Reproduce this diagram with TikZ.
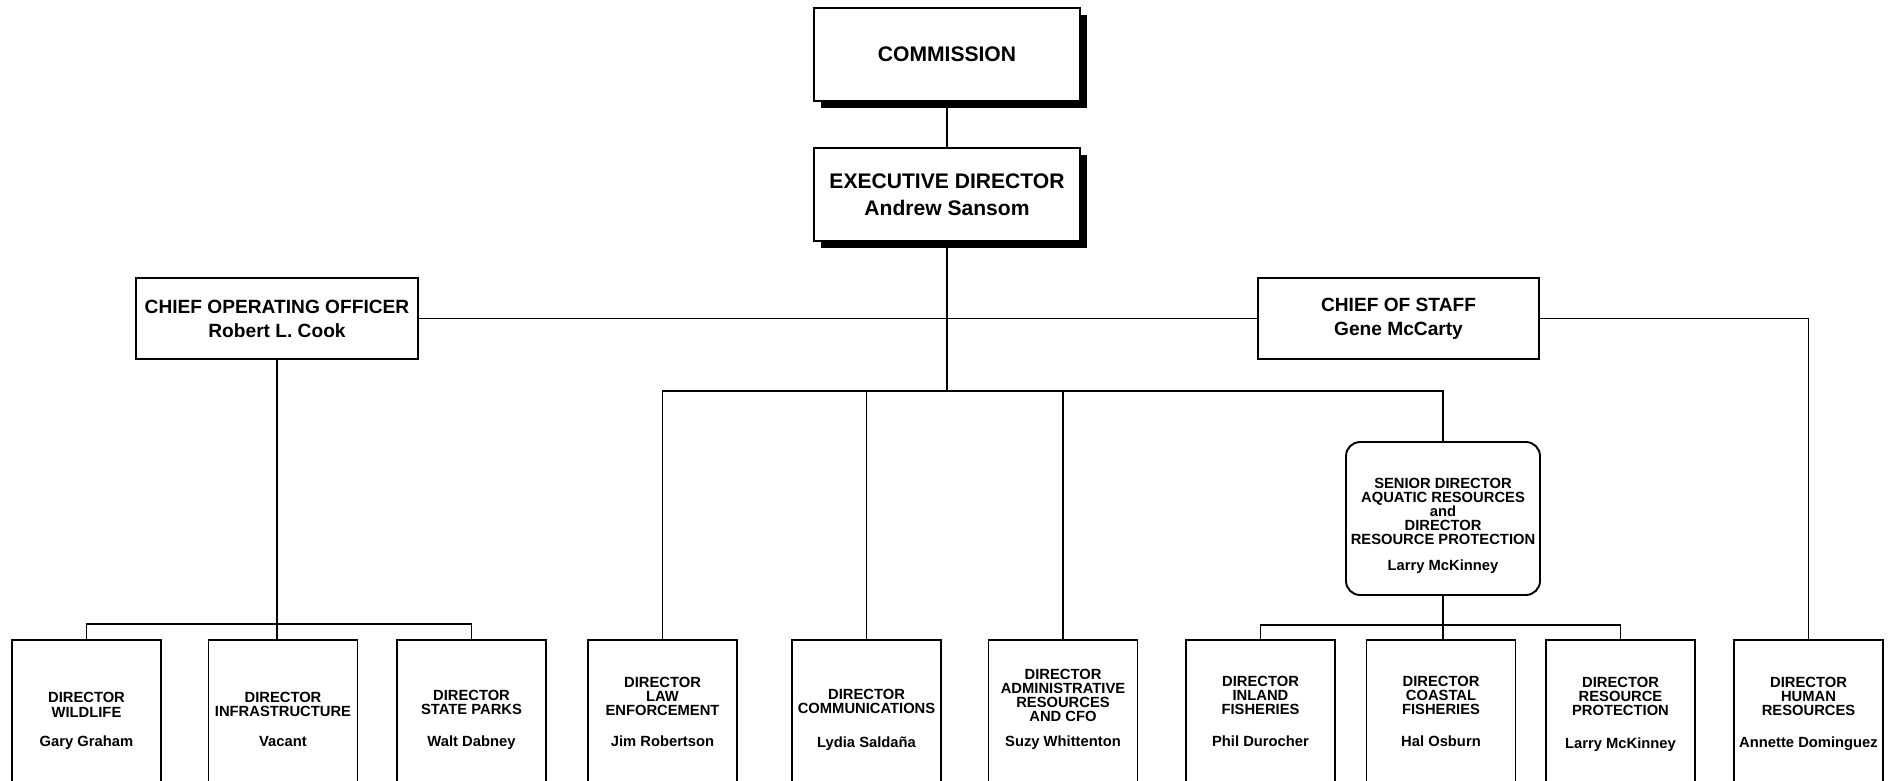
\documentclass[tikz,border=0pt]{standalone}
\usepackage{fontspec}
\setmainfont{Liberation Sans}
\usepackage{tikz}
\usetikzlibrary{shadows}

\begin{document}
\begin{tikzpicture}[x=0.02cm, y=-0.02cm, line width=1.1pt, box/.style={draw, fill=white, inner sep=0}, topbox/.style={box, minimum width=5.32cm, minimum height=1.86cm, align=center, font=\fontsize{12}{15.4}\selectfont\bfseries, drop shadow={shadow xshift=4.2pt, shadow yshift=-4.2pt, fill=black, opacity=1}}, chief/.style={box, minimum width=5.63cm, minimum height=1.62cm, align=center, font=\fontsize{10.9}{13.7}\selectfont\bfseries}, dir/.style={box, minimum width=2.98cm, minimum height=3.4cm, anchor=north}, title/.style={inner sep=0, align=center, anchor=south, font=\fontsize{8.4}{8}\selectfont\bfseries}, who/.style={inner sep=0, anchor=base, font=\fontsize{8.4}{8}\selectfont\bfseries}]
\useasboundingbox (0,0) rectangle (1894,781);
\clip (0,0) rectangle (1894,781);
\node[topbox] (comm) at (947,54.5) {COMMISSION};
\node[topbox] (exec) at (947,194.5) {EXECUTIVE DIRECTOR\\Andrew Sansom};
\node[chief] (coo) at (277,318.5) {CHIEF OPERATING OFFICER\\Robert L. Cook};
\node[chief] (cos) at (1398.5,318.5) {CHIEF OF STAFF\\Gene McCarty};
\node[box, rounded corners=8pt, minimum width=3.88cm, minimum height=3.06cm] (sen) at (1443,518.5) {};
\node[inner sep=0, align=center, font=\fontsize{8.4}{8}\selectfont\bfseries] (sent) at (1443,526) {SENIOR DIRECTOR\\AQUATIC RESOURCES\\and\\DIRECTOR\\RESOURCE PROTECTION\\[7pt]Larry McKinney};
% directors
\node[dir] (wild) at (86.5,639) {};
\node[title] (wildt) at (86.5,718) {DIRECTOR\\WILDLIFE};
\node[who] (wildn) at (86.5,746) {Gary Graham};
\node[dir] (infra) at (283,639) {};
\node[title] (infrat) at (283,718) {DIRECTOR\\INFRASTRUCTURE};
\node[who] (infran) at (283,746) {Vacant};
\node[dir] (parks) at (471.5,639) {};
\node[title] (parkst) at (471.5,716) {DIRECTOR\\STATE PARKS};
\node[who] (parksn) at (471.5,746) {Walt Dabney};
\node[dir] (law) at (662.5,639) {};
\node[title] (lawt) at (662.5,717) {DIRECTOR\\LAW\\ENFORCEMENT};
\node[who] (lawn) at (662.5,746) {Jim Robertson};
\node[dir] (comms) at (866.5,639) {};
\node[title] (commst) at (866.5,715) {DIRECTOR\\COMMUNICATIONS};
\node[who] (commsn) at (866.5,747) {Lydia Saldaña};
\node[dir] (admin) at (1063,639) {};
\node[title] (admint) at (1063,723) {DIRECTOR\\ADMINISTRATIVE\\RESOURCES\\AND CFO};
\node[who] (adminn) at (1063,746) {Suzy Whittenton};
\node[dir] (inland) at (1260.5,639) {};
\node[title] (inlandt) at (1260.5,716) {DIRECTOR\\INLAND\\FISHERIES};
\node[who] (inlandn) at (1260.5,746) {Phil Durocher};
\node[dir] (coastal) at (1441,639) {};
\node[title] (coastalt) at (1441,716) {DIRECTOR\\COASTAL\\FISHERIES};
\node[who] (coastaln) at (1441,746) {Hal Osburn};
\node[dir] (protect) at (1620.5,639) {};
\node[title] (protectt) at (1620.5,717) {DIRECTOR\\RESOURCE\\PROTECTION};
\node[who] (protectn) at (1620.5,748) {Larry McKinney};
\node[dir] (human) at (1808.5,639) {};
\node[title] (humant) at (1808.5,717) {DIRECTOR\\HUMAN\\RESOURCES};
\node[who] (humann) at (1808.5,747) {Annette Dominguez};
% lines
\coordinate (ebus) at (947,391);
\coordinate (cbus) at (277,624);
\coordinate (sbus) at (1443,625);
\draw (comm.south) -- (exec.north);
\draw (exec.south) -- (ebus);
\draw (coo.east) -- (cos.west);
\draw (cos.east) -| (human.north);
\draw (law.north) |- (ebus) -| (sen.north);
\draw (comms.north) |- (ebus);
\draw (admin.north) |- (ebus);
\draw (coo.south) -- (cbus);
\draw (wild.north) |- (cbus) -| (parks.north);
\draw (cbus) -- (cbus |- infra.north);
\draw (sen.south) -- (sbus);
\draw (inland.north) |- (sbus) -| (protect.north);
\draw (sbus) -- (sbus |- coastal.north);
\end{tikzpicture}
\end{document}
